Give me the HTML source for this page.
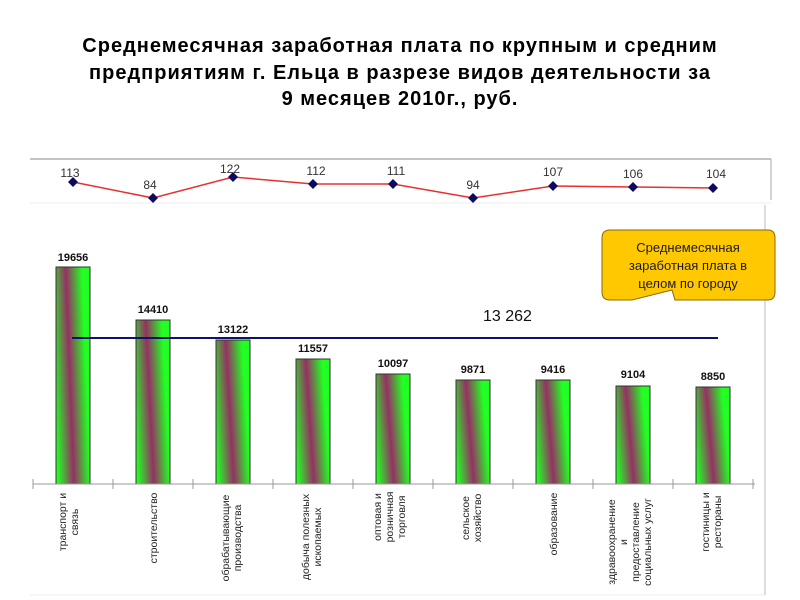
<!DOCTYPE html>
<html><head><meta charset="utf-8"><style>
html,body{margin:0;padding:0;background:#fff;}
svg{display:block;font-family:"Liberation Sans",sans-serif;}
</style></head><body>
<svg width="800" height="600" viewBox="0 0 800 600" xmlns="http://www.w3.org/2000/svg">
<defs>
<linearGradient id="g" x1="0" y1="1" x2="1" y2="0.75">
<stop offset="0.05" stop-color="#22ff22"/>
<stop offset="0.5" stop-color="#963064"/>
<stop offset="0.95" stop-color="#22ff22"/>
</linearGradient>
</defs>
<g font-weight="bold" font-size="20" letter-spacing="1" text-anchor="middle" fill="#000">
<text x="400" y="52">Среднемесячная заработная плата по крупным и средним</text>
<text x="400" y="79">предприятиям г. Ельца в разрезе видов деятельности за</text>
<text x="400" y="105">9 месяцев 2010г., руб.</text>
</g>
<line x1="30" y1="159" x2="771" y2="159" stroke="#888" stroke-width="1"/>
<line x1="771" y1="159" x2="771" y2="200" stroke="#aaa"/>
<line x1="30" y1="203" x2="771" y2="203" stroke="#eee"/>
<line x1="765" y1="205" x2="765" y2="595" stroke="#bbb"/>
<line x1="30" y1="595" x2="765" y2="595" stroke="#eee"/>
<polyline fill="none" stroke="#e83030" stroke-width="1.5" points="73,182 153,198 233,177 313,184 393,184 473,198 553,186 633,187 713,188"/>
<g fill="#0a0a60">
<path d="M73,177 l5,5 -5,5 -5,-5z"/><path d="M153,193 l5,5 -5,5 -5,-5z"/><path d="M233,172 l5,5 -5,5 -5,-5z"/>
<path d="M313,179 l5,5 -5,5 -5,-5z"/><path d="M393,179 l5,5 -5,5 -5,-5z"/><path d="M473,193 l5,5 -5,5 -5,-5z"/>
<path d="M553,181 l5,5 -5,5 -5,-5z"/><path d="M633,182 l5,5 -5,5 -5,-5z"/><path d="M713,183 l5,5 -5,5 -5,-5z"/>
</g>
<g font-size="12" text-anchor="middle" fill="#333">
<text x="70" y="177">113</text><text x="150" y="189">84</text><text x="230" y="173">122</text>
<text x="316" y="175">112</text><text x="396" y="175">111</text><text x="473" y="189">94</text>
<text x="553" y="176">107</text><text x="633" y="178">106</text><text x="716" y="178">104</text>
</g>
<g stroke="#333" stroke-width="1" fill="url(#g)">
<rect x="56" y="267" width="34" height="217"/>
<rect x="136" y="320" width="34" height="164"/>
<rect x="216" y="340" width="34" height="144"/>
<rect x="296" y="359" width="34" height="125"/>
<rect x="376" y="374" width="34" height="110"/>
<rect x="456" y="380" width="34" height="104"/>
<rect x="536" y="380" width="34" height="104"/>
<rect x="616" y="386" width="34" height="98"/>
<rect x="696" y="387" width="34" height="97"/>
</g>
<g font-size="11" font-weight="bold" text-anchor="middle" fill="#111">
<text x="73" y="261">19656</text><text x="153" y="313">14410</text><text x="233" y="333">13122</text>
<text x="313" y="352">11557</text><text x="393" y="367">10097</text><text x="473" y="373">9871</text>
<text x="553" y="373">9416</text><text x="633" y="378">9104</text><text x="713" y="380">8850</text>
</g>
<line x1="72" y1="338" x2="718" y2="338" stroke="#101070" stroke-width="2"/>
<text x="483" y="321" font-size="16" fill="#111">13 262</text>
<line x1="33" y1="484" x2="755" y2="484" stroke="#999"/>
<g stroke="#999"><line x1="33" y1="479" x2="33" y2="489"/><line x1="113" y1="479" x2="113" y2="489"/><line x1="193" y1="479" x2="193" y2="489"/><line x1="273" y1="479" x2="273" y2="489"/><line x1="353" y1="479" x2="353" y2="489"/><line x1="433" y1="479" x2="433" y2="489"/><line x1="513" y1="479" x2="513" y2="489"/><line x1="593" y1="479" x2="593" y2="489"/><line x1="673" y1="479" x2="673" y2="489"/><line x1="753" y1="479" x2="753" y2="489"/></g>
<g font-size="10.5" fill="#222" text-anchor="middle">
<text transform="translate(66,522) rotate(-90)"><tspan x="0">транспорт и</tspan><tspan x="0" dy="12">связь</tspan></text>
<text transform="translate(157,528) rotate(-90)">строительство</text>
<text transform="translate(229,538) rotate(-90)"><tspan x="0">обрабатывающие</tspan><tspan x="0" dy="12">производства</tspan></text>
<text transform="translate(309,537) rotate(-90)"><tspan x="0">добыча полезных</tspan><tspan x="0" dy="12">ископаемых</tspan></text>
<text transform="translate(381,517) rotate(-90)"><tspan x="0">оптовая и</tspan><tspan x="0" dy="12">розничная</tspan><tspan x="0" dy="12">торговля</tspan></text>
<text transform="translate(469,518) rotate(-90)"><tspan x="0">сельское</tspan><tspan x="0" dy="12">хозяйство</tspan></text>
<text transform="translate(557,524) rotate(-90)">образование</text>
<text transform="translate(615,542) rotate(-90)"><tspan x="0">здравоохранение</tspan><tspan x="0" dy="12">и</tspan><tspan x="0" dy="12">предоставление</tspan><tspan x="0" dy="12">социальных услуг</tspan></text>
<text transform="translate(709,522) rotate(-90)"><tspan x="0">гостиницы и</tspan><tspan x="0" dy="12">рестораны</tspan></text>
</g>
<path d="M610,230 H768 Q775,230 775,238 V292 Q775,300 768,300 H675 L672,290 L632,300 H610 Q602,300 602,292 V238 Q602,230 610,230 Z" fill="#ffc800" stroke="#8a6a00" stroke-width="1"/>
<g font-size="13" text-anchor="middle" fill="#1a1a2a">
<text x="688" y="252">Среднемесячная</text><text x="688" y="270">заработная плата в</text><text x="688" y="288">целом по городу</text>
</g>
</svg>
</body></html>
